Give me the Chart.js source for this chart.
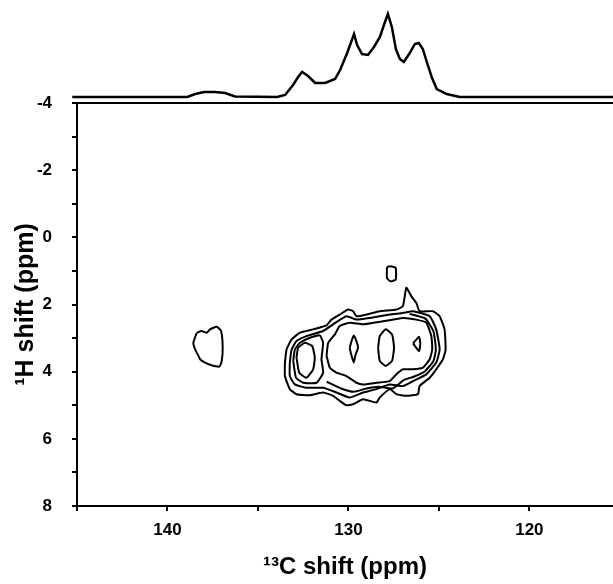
<!DOCTYPE html>
<html>
<head>
<meta charset="utf-8">
<script src="https://cdn.jsdelivr.net/npm/chart.js@4.4.1/dist/chart.umd.min.js"></script>
<style>
  html, body { margin: 0; padding: 0; background: #fff; }
  #wrap { position: relative; width: 613px; height: 584px; }
  #wrap canvas { position: absolute; left: 0; top: 0; }
</style>
</head>
<body>
<div id="wrap">
  <canvas id="mapChart" width="613" height="584"></canvas>
  <canvas id="specChart" width="613" height="100"></canvas>
</div>
<script>
// 1D 13C projection on top (ppm, intensity in arbitrary units)
const specPpm = [145.26, 138.90, 138.47, 137.97, 137.37, 136.82, 136.27, 133.94, 133.50, 133.06,
  132.78, 132.56, 132.23, 131.84, 131.29, 130.74, 130.46, 130.07, 129.85, 129.69,
  129.52, 129.25, 128.92, 128.59, 128.26, 128.04, 127.82, 127.60, 127.38, 127.16,
  126.94, 126.61, 126.33, 126.11, 125.89, 125.67, 125.40, 125.12, 124.57, 123.85, 115.38];
const specInt = [0, 0, 3, 5, 5, 4, 0.5, 0, 2, 12,
  20, 25, 21, 14, 14, 18, 27, 44, 55, 63,
  52, 43, 42, 50, 60, 72, 83, 70, 48, 38,
  35, 44, 53, 54, 48, 35, 20, 8, 3, 0, 0];

// axis ticks
const cTicks = [145, 140, 135, 130, 125, 120];
const cLabels = ['', '140', '', '130', '', '120'];
const hTicks = [-4, -3, -2, -1, 0, 1, 2, 3, 4, 5, 6, 7, 8];

// contour lines, [13C ppm, 1H ppm]
const leftSpot = [[138.38, 2.84], [138.11, 2.79], [137.83, 2.84], [137.65, 2.74], [137.28, 2.66],
  [137.04, 2.79], [136.95, 3.24], [137.00, 3.68], [137.13, 3.85], [137.56, 3.81],
  [137.92, 3.73], [138.20, 3.63], [138.29, 3.53], [138.47, 3.34], [138.57, 3.14]];
const outer1 = [[133.51, 3.73], [133.42, 3.34], [133.14, 3.04], [132.68, 2.84], [131.95, 2.74],
  [131.21, 2.62], [130.94, 2.45], [130.48, 2.30], [130.02, 2.15], [129.74, 2.20],
  [129.56, 2.35], [129.01, 2.30], [128.27, 2.20], [127.35, 2.15], [126.99, 2.05],
  [126.80, 1.50], [126.53, 1.75], [126.25, 1.95], [126.07, 2.20], [125.33, 2.20],
  [124.96, 2.35], [124.69, 2.74], [124.63, 3.34], [124.78, 3.63], [125.15, 3.93],
  [125.51, 4.18], [126.07, 4.43], [126.16, 4.67], [126.80, 4.72], [127.35, 4.67],
  [127.72, 4.52], [128.27, 4.77], [128.46, 4.92], [129.19, 4.82], [129.74, 4.97],
  [130.11, 5.00], [130.48, 4.87], [130.85, 4.72], [131.40, 4.62], [132.13, 4.70],
  [132.87, 4.67], [133.24, 4.52], [133.51, 4.13]];
const outer2 = [[133.24, 3.73], [133.14, 3.34], [132.87, 3.09], [132.32, 2.94], [131.40, 2.79],
  [130.85, 2.59], [130.11, 2.35], [129.56, 2.45], [128.82, 2.40], [127.72, 2.30],
  [126.99, 2.25], [126.43, 2.20], [125.51, 2.35], [125.15, 2.74], [124.96, 3.34],
  [125.15, 3.73], [125.70, 4.08], [126.43, 4.28], [126.99, 4.43], [127.72, 4.38],
  [128.46, 4.52], [129.19, 4.62], [129.93, 4.77], [130.66, 4.62], [131.40, 4.48],
  [132.32, 4.48], [132.96, 4.38], [133.24, 4.13]];
const outer3 = [[126.62, 2.28], [125.75, 2.42], [125.30, 2.80], [125.17, 3.34], [125.30, 3.68],
  [125.80, 4.00], [126.40, 4.15], [126.95, 4.25], [127.55, 4.50], [128.30, 4.45],
  [129.00, 4.50], [129.70, 4.60], [130.40, 4.50], [131.20, 4.30]];
const leftLobe = [[133.05, 3.68], [132.96, 3.34], [132.68, 3.14], [132.13, 2.99], [131.58, 2.92],
  [131.40, 3.14], [131.49, 3.63], [131.40, 4.03], [131.76, 4.33], [132.50, 4.33], [132.90, 4.18]];
const rightLobe = [[131.21, 3.53], [131.12, 3.14], [130.75, 2.89], [130.48, 2.64], [129.93, 2.54],
  [129.19, 2.59], [128.09, 2.50], [126.99, 2.40], [126.25, 2.45], [125.70, 2.54],
  [125.42, 2.94], [125.37, 3.34], [125.51, 3.63], [125.88, 3.88], [126.43, 3.93],
  [126.99, 3.93], [127.35, 4.08], [127.72, 4.28], [128.46, 4.33], [129.19, 4.38],
  [129.56, 4.33], [130.11, 4.13], [130.66, 4.03], [131.03, 3.88]];
const leftOval = [[132.87, 3.58], [132.78, 3.29], [132.41, 3.14], [132.00, 3.24], [131.86, 3.58],
  [131.95, 3.93], [132.32, 4.18], [132.72, 4.03]];
const diamond = [[129.93, 3.29], [129.83, 3.09], [129.71, 2.92], [129.56, 3.09], [129.47, 3.29],
  [129.60, 3.48], [129.71, 3.73], [129.85, 3.48]];
const midOval = [[128.36, 3.29], [128.27, 2.94], [127.94, 2.74], [127.59, 2.89], [127.48, 3.29],
  [127.59, 3.68], [127.94, 3.83], [128.27, 3.68]];
const triangle = [[126.43, 3.16], [126.10, 2.96], [126.03, 3.16], [126.10, 3.39]];
const topSpot = [[127.87, 0.88], [127.68, 0.86], [127.39, 0.91], [127.39, 1.26], [127.68, 1.31], [127.87, 1.21]];

const closedContours = [leftSpot, outer1, outer2, leftLobe, rightLobe, leftOval, diamond, midOval, triangle, topSpot];
const openContours = [outer3];

Chart.defaults.font.family = "'Liberation Sans', Arial, sans-serif";
Chart.defaults.color = '#000';

const C_MIN = 115.38, C_MAX = 145;

function toPts(pts, close) {
  const d = pts.map(p => ({ x: p[0], y: p[1] }));
  if (close) d.push({ x: pts[0][0], y: pts[0][1] });
  return d;
}

function contourSet(pts, close) {
  return {
    data: toPts(pts, close),
    showLine: true,
    borderColor: '#000',
    borderWidth: 2,
    pointRadius: 0,
    tension: 0.15
  };
}

// contour map
new Chart(document.getElementById('mapChart'), {
  type: 'scatter',
  data: {
    datasets: closedContours.map(c => contourSet(c, true))
      .concat(openContours.map(c => contourSet(c, false)))
  },
  options: {
    responsive: false,
    animation: false,
    devicePixelRatio: 1,
    layout: { padding: { top: 103, right: 0, left: 0, bottom: 0 } },
    plugins: { legend: { display: false }, tooltip: { enabled: false } },
    scales: {
      x: {
        type: 'linear',
        reverse: true,
        min: C_MIN,
        max: C_MAX,
        afterBuildTicks: s => { s.ticks = cTicks.map(v => ({ value: v })); },
        afterFit: s => { s.height = 78; },
        ticks: {
          autoSkip: false,
          maxRotation: 0,
          padding: 9,
          font: { size: 17, weight: 'bold' },
          callback: (v, i) => cLabels[i]
        },
        grid: { drawOnChartArea: false, color: '#000', tickLength: 5, lineWidth: 2 },
        border: { display: true, color: '#000', width: 2 },
        title: {
          display: true,
          text: '¹³C shift (ppm)',
          font: { size: 24, weight: 'bold' },
          padding: { top: 0, bottom: 2 }
        }
      },
      y: {
        type: 'linear',
        reverse: true,
        min: -4,
        max: 8,
        afterBuildTicks: s => { s.ticks = hTicks.map(v => ({ value: v })); },
        afterFit: s => { s.width = 77; },
        ticks: {
          autoSkip: false,
          padding: 20,
          font: { size: 17, weight: 'bold' },
          callback: v => (v % 2 === 0 ? String(v) : '')
        },
        grid: {
          color: c => (c.tick && c.tick.value === -4 ? '#000' : 'rgba(0,0,0,0)'),
          tickColor: '#000',
          tickLength: 5,
          lineWidth: 2
        },
        border: { display: true, color: '#000', width: 2 },
        title: {
          display: true,
          text: '¹H shift (ppm)',
          font: { size: 25, weight: 'bold' },
          padding: { top: 11, bottom: 0 }
        }
      }
    }
  }
});

// 1D projection above the map, same 13C scale
new Chart(document.getElementById('specChart'), {
  type: 'scatter',
  data: {
    datasets: [{
      data: specPpm.map((p, i) => ({ x: p, y: specInt[i] })),
      showLine: true,
      borderColor: '#000',
      borderWidth: 2.5,
      pointRadius: 0,
      tension: 0,
      clip: false
    }]
  },
  options: {
    responsive: false,
    animation: false,
    devicePixelRatio: 1,
    layout: { padding: { top: 0, right: 0, left: 0, bottom: 3 } },
    plugins: { legend: { display: false }, tooltip: { enabled: false } },
    scales: {
      x: { type: 'linear', reverse: true, min: C_MIN, max: C_MAX, display: false },
      y: {
        min: 0,
        max: 97,
        afterFit: s => { s.width = 77; },
        ticks: { display: false },
        grid: { display: false },
        border: { display: false }
      }
    }
  }
});
</script>
</body>
</html>
